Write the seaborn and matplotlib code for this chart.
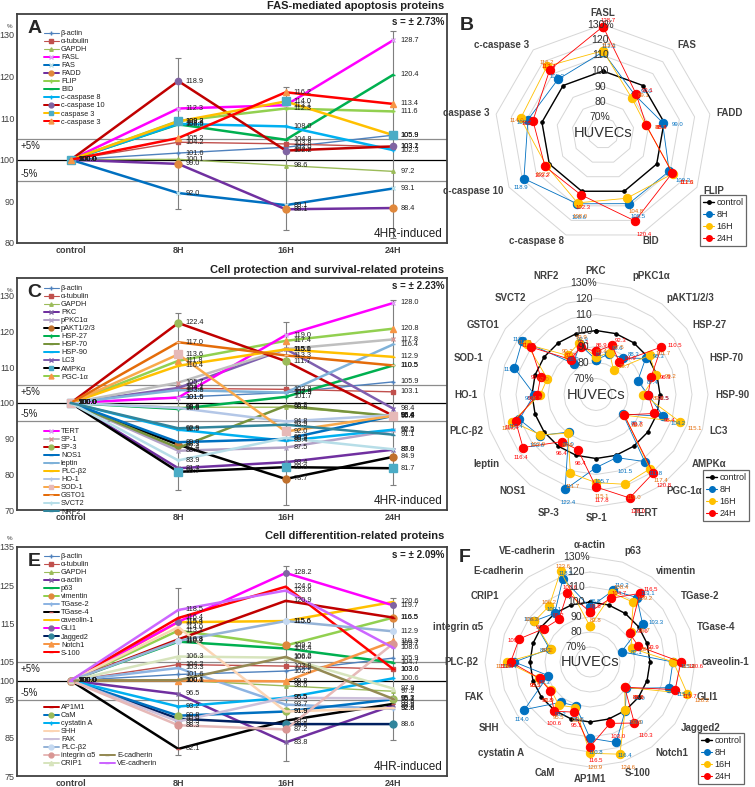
import numpy as np
import pandas as pd
import matplotlib
matplotlib.use('Agg')
import matplotlib.pyplot as plt
import seaborn as sns
from matplotlib.lines import Line2D

sns.set_theme(style='white')
plt.rcParams['font.family'] = ['Liberation Sans', 'DejaVu Sans']

W, H = 755, 787
times = ['control', '8H', '16H', '24H']

# ---------------- Panel A data ----------------
a_names = ['β-actin', 'α-tubulin', 'GAPDH', 'FASL', 'FAS', 'FADD', 'FLIP', 'BID',
           'c-caspase 8', 'c-caspase 10', 'caspase 3', 'c-caspase 3']
a_8h = [101.6, 104.2, 100.1, 112.3, 92.0, 99.0, 109.3, 108.5, 108.6, 118.9, 109.2, 105.2]
a_16h = [103.0, 103.8, 98.6, 113.1, 89.1, 88.1, 112.3, 104.8, 108.0, 102.2, 114.0, 116.2]
a_24h = [105.9, 103.1, 97.2, 128.7, 93.1, 88.4, 111.6, 120.4, 102.3, 103.2, 105.9, 113.4]
a_err_lo = [88.1, 83.1, 81.2]
a_err_hi = [124.4, 117.5, 131.0]
b_axes = ['FASL', 'FAS', 'FADD', 'FLIP', 'BID', 'c-caspase 8', 'c-caspase 10', 'caspase 3', 'c-caspase 3']

# ---------------- Panel C data ----------------
c_names = ['β-actin', 'α-tubulin', 'GAPDH', 'PKC', 'pPKC1α', 'pAKT1/2/3', 'HSP-27', 'HSP-70',
           'HSP-90', 'LC3', 'AMPKα', 'PGC-1α', 'TERT', 'SP-1', 'SP-3', 'NOS1', 'leptin',
           'PLC-β2', 'HO-1', 'SOD-1', 'GSTO1', 'SVCT2', 'NRF2']
c_8h = [101.6, 104.1, 98.8, 81.7, 86.6, 88.3, 98.3, 87.4, 92.5, 104.2, 80.7, 111.8, 101.5,
        105.7, 122.4, 89.0, 103.6, 110.4, 98.6, 113.6, 117.0, 83.9, 92.9]
c_16h = [102.9, 103.8, 98.8, 83.4, 87.5, 78.7, 101.7, 99.2, 89.4, 115.1, 82.0, 117.4, 119.0,
         115.1, 111.7, 89.9, 102.9, 115.0, 94.8, 92.0, 113.3, 90.2, 93.9]
c_24h = [105.9, 103.1, 96.4, 86.9, 92.3, 84.9, 110.5, 96.3, 92.5, 98.4, 81.7, 120.8, 128.0,
         117.8, 96.4, 96.4, 116.4, 112.9, 96.6, 96.4, 110.5, 87.0, 91.1]
c_err_lo = [75.6, 71.4, 77.0]
c_err_hi = [125.2, 122.6, 128.9]
d_axes = ['PKC', 'pPKC1α', 'pAKT1/2/3', 'HSP-27', 'HSP-70', 'HSP-90', 'LC3', 'AMPKα', 'PGC-1α',
          'TERT', 'SP-1', 'SP-3', 'NOS1', 'leptin', 'PLC-β2', 'HO-1', 'SOD-1', 'GSTO1', 'SVCT2', 'NRF2']

# ---------------- Panel E data ----------------
e_names = ['β-actin', 'α-tubulin', 'GAPDH', 'α-actin', 'p63', 'vimentin', 'TGase-2', 'TGase-4',
           'caveolin-1', 'GLI1', 'Jagged2', 'Notch1', 'S-100', 'AP1M1', 'CaM', 'cystatin A',
           'SHH', 'FAK', 'PLC-β2', 'integrin α5', 'CRIP1', 'E-cadherin', 'VE-cadherin']
e_8h = [101.6, 104.2, 100.1, 96.5, 110.2, 113.1, 103.3, 82.1, 115.3, 115.4, 90.0, 100.0, 116.4,
        110.8, 90.8, 93.2, 114.0, 89.3, 110.4, 88.3, 106.3, 100.1, 118.5]
e_16h = [102.5, 103.8, 98.6, 83.8, 108.4, 109.2, 93.7, 89.5, 115.6, 128.2, 88.6, 99.8, 124.6,
         120.9, 91.9, 95.5, 91.9, 95.5, 115.6, 87.2, 106.0, 106.2, 123.6]
e_24h = [105.9, 103.0, 97.2, 93.5, 104.7, 116.5, 92.6, 93.9, 120.6, 119.7, 88.6, 110.3, 103.0,
         116.5, 95.1, 100.6, 92.8, 95.3, 112.9, 109.7, 97.9, 95.2, 108.6]
e_err_lo = [80.4, 78.9, 84.4]
e_err_hi = [124.3, 130.0, 121.7]
f_axes = ['α-actin', 'p63', 'vimentin', 'TGase-2', 'TGase-4', 'caveolin-1', 'GLI1', 'Jagged2',
          'Notch1', 'S-100', 'AP1M1', 'CaM', 'cystatin A', 'SHH', 'FAK', 'PLC-β2', 'integrin α5',
          'CRIP1', 'E-cadherin', 'VE-cadherin']

# ---------------- styles ----------------
a_style = {
    'β-actin': ('#4F81BD', '#4F81BD', '+', 3, 1.0),
    'α-tubulin': ('#C0504D', '#C0504D', 's', 2.5, 1.0),
    'GAPDH': ('#9BBB59', '#9BBB59', '^', 2.5, 1.0),
    'FASL': ('#FF00FF', '#D9A0F0', 'x', 3.5, 1.8),
    'FAS': ('#0070C0', '#B7DEE8', 'x', 3.5, 1.8),
    'FADD': ('#7030A0', '#E0883C', 'o', 5, 1.8),
    'FLIP': ('#92D050', '#92D050', '+', 3, 1.8),
    'BID': ('#00B050', '#00B050', '_', 3, 1.8),
    'c-caspase 8': ('#00B0F0', '#00B0F0', '+', 3, 1.8),
    'c-caspase 10': ('#C00000', '#8064A2', 'o', 4.5, 1.8),
    'caspase 3': ('#FFC000', '#4BACC6', 's', 5.5, 1.8),
    'c-caspase 3': ('#FF0000', '#F79646', '^', 4.5, 1.8),
}
c_style = {
    'β-actin': ('#4F81BD', '#4F81BD', '+', 3, 1.0),
    'α-tubulin': ('#C0504D', '#C0504D', 's', 2.5, 1.0),
    'GAPDH': ('#9BBB59', '#9BBB59', '^', 2.5, 1.0),
    'PKC': ('#7030A0', '#8064A2', 'x', 3, 1.8),
    'pPKC1α': ('#B3A2C7', '#B3A2C7', 'x', 3, 1.8),
    'pAKT1/2/3': ('#000000', '#C0702C', 'o', 5, 1.8),
    'HSP-27': ('#00B050', '#00B050', '+', 3, 1.8),
    'HSP-70': ('#77933C', '#77933C', '_', 3, 1.8),
    'HSP-90': ('#00B0F0', '#00B0F0', '_', 3, 1.8),
    'LC3': ('#7F5FAF', '#7F5FAF', 'x', 3, 1.8),
    'AMPKα': ('#000000', '#4BACC6', 's', 5.5, 1.8),
    'PGC-1α': ('#92D050', '#F79646', '^', 4.5, 1.8),
    'TERT': ('#FF00FF', '#D9A0F0', 'x', 3.5, 1.8),
    'SP-1': ('#BFBFBF', '#D99694', 'x', 3.5, 1.8),
    'SP-3': ('#C00000', '#9BBB59', 'o', 5, 1.8),
    'NOS1': ('#0070C0', '#0070C0', '_', 3, 1.8),
    'leptin': ('#7FB2D9', '#7FB2D9', '_', 3, 1.8),
    'PLC-β2': ('#FFC000', '#FFC000', '_', 3, 1.8),
    'HO-1': ('#B4C7E7', '#B4C7E7', '+', 3, 1.8),
    'SOD-1': ('#F9A94B', '#E6B9B8', 's', 5.5, 1.8),
    'GSTO1': ('#E46C0A', '#FAC090', '_', 3, 1.8),
    'SVCT2': ('#B7DEE8', '#B7DEE8', '+', 3, 1.8),
    'NRF2': ('#31859C', '#31859C', '_', 3, 1.8),
}
e_style = {
    'β-actin': ('#4F81BD', '#4F81BD', '+', 3, 1.0),
    'α-tubulin': ('#C0504D', '#C0504D', 's', 2.5, 1.0),
    'GAPDH': ('#9BBB59', '#9BBB59', '^', 2.5, 1.0),
    'α-actin': ('#7030A0', '#8064A2', 'x', 3.5, 1.8),
    'p63': ('#00B050', '#00B050', '_', 3, 1.8),
    'vimentin': ('#92D050', '#E0883C', 'o', 5, 1.8),
    'TGase-2': ('#8DB4E2', '#8DB4E2', '+', 3, 1.8),
    'TGase-4': ('#000000', '#C0504D', '_', 3, 1.8),
    'caveolin-1': ('#FFC000', '#FFC000', '_', 3, 1.8),
    'GLI1': ('#FF00FF', '#8064A2', 'o', 4, 1.8),
    'Jagged2': ('#002060', '#31859C', 'o', 5, 1.8),
    'Notch1': ('#F79646', '#F79646', '^', 4, 1.8),
    'S-100': ('#FF0000', '#FF0000', '_', 3, 1.8),
    'AP1M1': ('#C00000', '#C00000', '_', 3, 1.8),
    'CaM': ('#0070C0', '#9BBB59', 'o', 5, 1.8),
    'cystatin A': ('#00B0F0', '#00B0F0', '+', 3, 1.8),
    'SHH': ('#FCD5B4', '#FCD5B4', '_', 3, 1.8),
    'FAK': ('#CCC0DA', '#CCC0DA', '_', 3, 1.8),
    'PLC-β2': ('#95B3D7', '#C5D9F1', 'o', 4, 1.8),
    'integrin α5': ('#E6B9B8', '#D99694', 'o', 5, 1.8),
    'CRIP1': ('#D7E4BD', '#D7E4BD', '^', 3, 1.8),
    'E-cadherin': ('#948A54', '#948A54', '_', 3, 1.8),
    'VE-cadherin': ('#CC66FF', '#CC66FF', '_', 3, 1.8),
}

fig = plt.figure(figsize=(W / 100, H / 100), dpi=100)


def prect(l, t, r, b):
    return [l / W, 1 - b / H, (r - l) / W, (b - t) / H]


def handle_for(st):
    col, mcol, mk, ms, lw = st
    return Line2D([], [], color=col, lw=lw * 0.8, marker=mk, markersize=min(ms, 3.5),
                  markerfacecolor=mcol, markeredgecolor=mcol)


def line_panel(rect, names, v8, v16, v24, styles, ylim, yticks, elo, ehi, sval,
               letter, title, title_y, pm_y, groups):
    ax = fig.add_axes(prect(*rect))
    for i, n in enumerate(names):
        col, mcol, mk, ms, lw = styles[n]
        df = pd.DataFrame({'t': [0, 1, 2, 3], 'v': [100.0, v8[i], v16[i], v24[i]]})
        sns.lineplot(data=df, x='t', y='v', ax=ax, color=col, linewidth=lw, marker=mk,
                     markersize=ms, markerfacecolor=mcol, markeredgecolor=mcol,
                     markeredgewidth=1.0, errorbar=None, legend=False, sort=False, zorder=3)
        for x, v in zip([0, 1, 2, 3], [100.0, v8[i], v16[i], v24[i]]):
            ax.text(x + 0.07, v, f'{v:.1f}', fontsize=5.3, va='center', ha='left',
                    color='#202020', zorder=5)
    mids = [(l + h) / 2 for l, h in zip(elo, ehi)]
    errs = [[m - l for m, l in zip(mids, elo)], [h - m for h, m in zip(ehi, mids)]]
    ax.errorbar([1, 2, 3], mids, yerr=errs, fmt='none', ecolor='#7F7F7F', elinewidth=0.8,
                capsize=2, capthick=0.8, zorder=2)
    ax.axhline(100, color='black', lw=0.9, zorder=1)
    ax.axhline(105, color='#8C8C8C', lw=0.9, zorder=1)
    ax.axhline(95, color='#8C8C8C', lw=0.9, zorder=1)
    ax.set_xlim(-0.5, 3.5)
    ax.set_ylim(*ylim)
    ax.set_yticks(yticks)
    ax.set_yticklabels([str(t) for t in yticks], fontsize=6.5, color='#404040')
    ax.set_xticks([0, 1, 2, 3])
    ax.set_xticklabels(times, fontsize=6.5, fontweight='bold', color='#404040')
    ax.set_xlabel('')
    ax.set_ylabel('')
    ax.tick_params(length=0, pad=2)
    for s in ax.spines.values():
        s.set_color('#404040')
        s.set_linewidth(1.3)
    ax.text(-0.47, 104.4, '+5%', fontsize=7, va='top', ha='left', color='#202020')
    ax.text(-0.47, 95.4, '-5%', fontsize=7, va='bottom', ha='left', color='#202020')
    ax.text(0.995, 0.985, sval, transform=ax.transAxes, fontsize=7, ha='right', va='top',
            fontweight='bold', color='#202020')
    ax.text(0.99, 0.015, '4HR-induced', transform=ax.transAxes, fontsize=8.5, ha='right',
            va='bottom', color='#202020')
    ax.text(0.025, 0.975, letter, transform=ax.transAxes, fontsize=14, fontweight='bold',
            ha='left', va='top')
    fig.text(444 / W, 1 - title_y / H, title, fontsize=8, fontweight='bold', ha='right',
             va='center', color='#202020')
    fig.text(10 / W, 1 - pm_y / H, '%', fontsize=4.5, ha='center', va='center', color='#404040')
    for (x0, y0, grp) in groups:
        hs = [handle_for(styles[n]) for n in grp]
        lg = fig.legend(hs, grp, loc='upper left', bbox_to_anchor=(x0 / W, 1 - y0 / H),
                        bbox_transform=fig.transFigure, fontsize=5.3, frameon=False,
                        handlelength=2.0, handletextpad=0.3, labelspacing=0.12,
                        borderpad=0, borderaxespad=0)
        for t in lg.get_texts():
            t.set_color('#202020')
    return ax


def radar(cx, cy, R, axes_names, lookup, v8n, v16n, v24n, ring_dx, letter=None, letter_xy=None,
          legend_xy=None):
    ax = fig.add_axes(prect(cx - R, cy - R, cx + R, cy + R), projection='polar')
    ax.set_theta_offset(np.pi / 2)
    ax.set_theta_direction(-1)
    ax.set_ylim(60, 130)
    ax.grid(False)
    ax.spines['polar'].set_visible(False)
    ax.set_xticks([])
    ax.set_yticks([])
    ax.patch.set_alpha(0)
    N = len(axes_names)
    th = np.arange(N) * 2 * np.pi / N
    thc = np.append(th, 2 * np.pi)
    for ring in range(70, 131, 10):
        ax.plot(thc, [ring] * (N + 1), color='#D6D6D6', lw=0.7, clip_on=False, zorder=1)
    v8 = [v8n[lookup.index(a)] for a in axes_names]
    v16 = [v16n[lookup.index(a)] for a in axes_names]
    v24 = [v24n[lookup.index(a)] for a in axes_names]
    ctrl = [100.0] * N
    series = [('control', ctrl, 'black', 2.5, 1.0, None),
              ('8H', v8, '#0070C0', 6, 0.6, '#0070C0'),
              ('16H', v16, '#FFC000', 6, 0.6, '#E46C0A'),
              ('24H', v24, '#FF0000', 6, 0.6, '#FF0000')]
    for k, (nm, vals, col, ms, lw, tcol) in enumerate(series):
        df = pd.DataFrame({'th': thc, 'r': list(vals) + [vals[0]]})
        sns.lineplot(data=df, x='th', y='r', ax=ax, color=col, linewidth=lw, marker='o',
                     markersize=ms, markerfacecolor=col, markeredgecolor=col, sort=False,
                     errorbar=None, legend=False, clip_on=False, zorder=3 + k)
        if tcol:
            for t, v in zip(th, vals):
                dx = 7 * np.sin(t)
                dy = 7 * np.cos(t)
                ax.annotate(f'{v:.1f}', xy=(t, v), xytext=(dx + 4, dy - 3),
                            textcoords='offset points', fontsize=4.3, color=tcol,
                            ha='center', va='center', annotation_clip=False, zorder=10)
    ax.set_xlabel('')
    ax.set_ylabel('')
    for t, name in zip(th, axes_names):
        s, c = np.sin(t), np.cos(t)
        ha = 'left' if s > 0.05 else ('right' if s < -0.05 else 'center')
        va = 'bottom' if c > 0.95 else ('top' if c < -0.95 else 'center')
        ax.annotate(name, xy=(t, 130), xytext=(5 * s, 5 * c), textcoords='offset points',
                    fontsize=7, fontweight='bold', color='#404040', ha=ha, va=va,
                    annotation_clip=False)
    for ring in range(70, 131, 10):
        lab = f'{ring}%' if ring in (70, 130) else str(ring)
        ax.annotate(lab, xy=(0, ring), xytext=(ring_dx, 0), textcoords='offset points',
                    fontsize=7.5, color='#303030', ha='center', va='center',
                    annotation_clip=False, zorder=12)
    ax.text(0, 60, 'HUVECs', fontsize=10.5, ha='center', va='center', color='#303030', zorder=12)
    hs = [Line2D([], [], color='black', lw=1, marker='o', markersize=2.5),
          Line2D([], [], color='#0070C0', lw=0.8, marker='o', markersize=4),
          Line2D([], [], color='#FFC000', lw=0.8, marker='o', markersize=4),
          Line2D([], [], color='#FF0000', lw=0.8, marker='o', markersize=4)]
    lg = fig.legend(hs, ['control', '8H', '16H', '24H'], loc='upper left',
                    bbox_to_anchor=(legend_xy[0] / W, 1 - legend_xy[1] / H),
                    bbox_transform=fig.transFigure, fontsize=6.5, frameon=True, fancybox=False,
                    edgecolor='#404040', handlelength=1.3, handletextpad=0.2, labelspacing=0.35,
                    borderpad=0.3, borderaxespad=0)
    lg.get_frame().set_linewidth(0.9)
    if letter:
        fig.text(letter_xy[0] / W, 1 - letter_xy[1] / H, letter, fontsize=14, fontweight='bold',
                 ha='center', va='center')
    return ax


# Panel A
line_panel((17, 14, 447, 243), a_names, a_8h, a_16h, a_24h, a_style, (80, 135),
           [80, 90, 100, 110, 120, 130], a_err_lo, a_err_hi, 's = ± 2.73%', 'A',
           'FAS-mediated apoptosis proteins', 6, 26, [(44, 30, a_names)])
# Panel C
line_panel((17, 278, 447, 510), c_names, c_8h, c_16h, c_24h, c_style, (70, 135),
           [70, 80, 90, 100, 110, 120, 130], c_err_lo, c_err_hi, 's = ± 2.23%', 'C',
           'Cell protection and survival-related proteins', 270, 290,
           [(44, 285, c_names[:12]), (44, 428, c_names[12:])])
# Panel E
line_panel((17, 547, 447, 776), e_names, e_8h, e_16h, e_24h, e_style, (75, 135),
           [75, 85, 95, 100, 105, 115, 125, 135], e_err_lo, e_err_hi, 's = ± 2.09%', 'E',
           'Cell differentition-related proteins', 536, 539,
           [(44, 553, e_names[:13]), (44, 704, e_names[13:21]), (100, 752, e_names[21:])])

# Radars
radar(603, 133, 108.5, b_axes, a_names, a_8h, a_16h, a_24h, -2, 'B', (467, 25), (700, 195))
radar(596, 394.5, 112, d_axes, c_names, c_8h, c_16h, c_24h, -9, None, None, (703, 470))
radar(590, 662, 105, f_axes, e_names, e_8h, e_16h, e_24h, -10, 'F', (465, 558), (698, 733))

fig.savefig('out.png', dpi=100)
